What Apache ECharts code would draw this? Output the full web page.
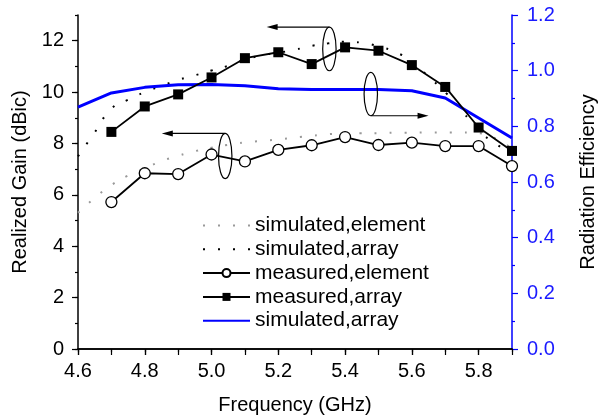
<!DOCTYPE html>
<html>
<head>
<meta charset="utf-8">
<script src="https://cdn.jsdelivr.net/npm/echarts@6/dist/echarts.min.js"></script>
<style>
	html, body { margin: 0; padding: 0; background: #fff; }
	#main { width: 600px; height: 416px; }
</style>
</head>
<body>
<div id="main"></div>
<script>
	// 频率 (GHz)
	const freq = [4.7, 4.8, 4.9, 5.0, 5.1, 5.2, 5.3, 5.4, 5.5, 5.6, 5.7, 5.8, 5.9]
	const measuredElement = [5.72, 6.84, 6.81, 7.57, 7.30, 7.75, 7.93, 8.25, 7.94, 8.03, 7.90, 7.90, 7.12]
	const measuredArray = [8.45, 9.44, 9.91, 10.57, 11.32, 11.55, 11.09, 11.74, 11.61, 11.05, 10.20, 8.62, 7.71]

	// 仿真曲线 (0.05 GHz 步长)
	const simFreq = [4.6, 4.65, 4.7, 4.75, 4.8, 4.85, 4.9, 4.95, 5.0, 5.05, 5.1, 5.15, 5.2, 5.25,
		5.3, 5.35, 5.4, 5.45, 5.5, 5.55, 5.6, 5.65, 5.7, 5.75, 5.8, 5.85, 5.9]
	const simElement = [5.30, 5.88, 6.38, 6.75, 7.03, 7.31, 7.52, 7.70, 7.83, 7.95, 8.04, 8.10, 8.16, 8.23,
		8.30, 8.36, 8.39, 8.40, 8.40, 8.42, 8.42, 8.43, 8.43, 8.43, 8.40, 8.20, 7.80]
	const simArray = [7.50, 8.43, 9.35, 9.70, 10.00, 10.24, 10.47, 10.65, 10.84, 11.02, 11.25, 11.43, 11.53, 11.65,
		11.80, 11.90, 11.96, 11.92, 11.78, 11.56, 11.20, 10.60, 10.00, 9.27, 8.50, 8.00, 7.60]

	// 辐射效率
	const effFreq = [4.6, 4.7, 4.8, 4.9, 5.0, 5.1, 5.2, 5.3, 5.4, 5.5, 5.6, 5.7, 5.8, 5.9]
	const efficiency = [0.869, 0.920, 0.940, 0.949, 0.950, 0.946, 0.935, 0.932, 0.932, 0.932, 0.928, 0.902, 0.830, 0.758]

	const legendNames = ['simulated,element', 'simulated,array', 'measured,element', 'measured,array', 'simulated,array ']

	// 标注: 椭圆中心 [f, value], 箭头所在值, 箭头终点频率
	const notes = [
		{ center: [5.041, 7.51], arrowY: 8.39, arrowTo: 4.851, series: 0 },
		{ center: [5.353, 11.68], arrowY: 12.53, arrowTo: 5.165, series: 1 },
		{ center: [5.477, 0.916], arrowY: 0.838, arrowTo: 5.65, series: 4 }
	]

	const font = 'Liberation Sans, Arial, sans-serif'
	const zip = (xs, ys) => xs.map((x, i) => [x, ys[i]])

	let myChart = echarts.init(document.getElementById('main'))

	const option = {
		animation: false,
		textStyle: { fontFamily: font },
		grid: { left: 78, right: 88, top: 15, bottom: 67, outerBoundsMode: 'none', containLabel: false },
		legend: {
			orient: 'vertical',
			left: 202,
			top: 215,
			padding: 0,
			itemWidth: 47,
			itemHeight: 10,
			itemGap: 2.8,
			textStyle: { fontSize: 21, color: '#000', fontFamily: font },
			data: [
				{ name: legendNames[0], itemStyle: { opacity: 0 } },
				{ name: legendNames[1], itemStyle: { opacity: 0 } },
				legendNames[2], legendNames[3],
				{ name: legendNames[4], itemStyle: { opacity: 0 } }
			]
		},
		xAxis: [{
			type: 'value', position: 'bottom', min: 4.6, max: 5.9, interval: 0.2,
			name: 'Frequency (GHz)', nameLocation: 'middle', nameGap: 46,
			nameTextStyle: { fontSize: 20, color: '#000' },
			axisLine: { lineStyle: { color: '#000', width: 1.5 } },
			axisTick: { length: 6, lineStyle: { color: '#000', width: 1.2 } },
			axisLabel: { fontSize: 20, color: '#000', margin: 12, showMaxLabel: false,
				formatter: v => v.toFixed(1) },
			splitLine: { show: false }
		}, {
			// 次刻度
			type: 'value', position: 'bottom', min: 4.6, max: 5.9, interval: 0.1,
			axisLine: { show: false },
			axisTick: { length: 3, lineStyle: { color: '#000', width: 1.2 } },
			axisLabel: { show: false },
			splitLine: { show: false }
		}, {
			type: 'value', position: 'top', min: 4.6, max: 5.9, interval: 0.1,
			axisLine: { lineStyle: { color: '#000', width: 1.5 } },
			axisTick: { inside: true, length: 6, lineStyle: { color: '#000', width: 1.2 } },
			axisLabel: { show: false },
			splitLine: { show: false }
		}],
		yAxis: [{
			type: 'value', position: 'left', min: 0, max: 13, interval: 2,
			name: 'Realized Gain (dBic)', nameLocation: 'middle', nameGap: 41, nameRotate: 90,
			nameTextStyle: { fontSize: 20, color: '#000' },
			axisLine: { lineStyle: { color: '#000', width: 1.5 } },
			axisTick: { length: 6, lineStyle: { color: '#000', width: 1.2 } },
			axisLabel: { fontSize: 20, color: '#000', margin: 14, showMaxLabel: false },
			splitLine: { show: false }
		}, {
			type: 'value', position: 'left', min: 0, max: 13, interval: 1,
			axisLine: { show: false },
			axisTick: { length: 3, lineStyle: { color: '#000', width: 1.2 } },
			axisLabel: { show: false },
			splitLine: { show: false }
		}, {
			type: 'value', position: 'right', min: 0, max: 1.2, interval: 0.2,
			name: 'Radiation Efficiency', nameLocation: 'middle', nameGap: 66, nameRotate: 90,
			nameTextStyle: { fontSize: 20, color: '#000' },
			axisLine: { lineStyle: { color: '#0000ff', width: 1.5 } },
			axisTick: { length: 6, lineStyle: { color: '#0000ff', width: 1.2 } },
			minorTick: { show: true, splitNumber: 2, length: 3, lineStyle: { color: '#0000ff', width: 1.2 } },
			axisLabel: { fontSize: 20, color: '#1a1aff', margin: 15, formatter: v => v.toFixed(1) },
			splitLine: { show: false }
		}],
		series: [{
			name: legendNames[0], type: 'line', xAxisIndex: 0, yAxisIndex: 0,
			data: zip(simFreq, simElement), smooth: true, symbol: 'none',
			lineStyle: { color: '#999', width: 2, type: [2, 13] }, itemStyle: { color: '#999' }, z: 2
		}, {
			name: legendNames[1], type: 'line', xAxisIndex: 0, yAxisIndex: 0,
			data: zip(simFreq, simArray), smooth: true, symbol: 'none',
			lineStyle: { color: '#000', width: 2, type: [2, 13] }, itemStyle: { color: '#000' }, z: 2
		}, {
			name: legendNames[2], type: 'line', xAxisIndex: 0, yAxisIndex: 0,
			data: zip(freq, measuredElement), symbol: 'circle', symbolSize: 11,
			lineStyle: { color: '#000', width: 1.8 },
			itemStyle: { color: '#fff', borderColor: '#000', borderWidth: 1.3 }, z: 4
		}, {
			name: legendNames[3], type: 'line', xAxisIndex: 0, yAxisIndex: 0,
			data: zip(freq, measuredArray), symbol: 'rect', symbolSize: 10,
			lineStyle: { color: '#000', width: 1.8 },
			itemStyle: { color: '#000' }, z: 4
		}, {
			name: legendNames[4], type: 'line', xAxisIndex: 0, yAxisIndex: 2,
			data: zip(effFreq, efficiency), symbol: 'none',
			lineStyle: { color: '#0000ff', width: 3 }, itemStyle: { color: '#0000ff' }, z: 3
		}]
	}

	myChart.setOption(option)

	// 椭圆和箭头
	const graphics = []
	notes.forEach(n => {
		const finder = { seriesIndex: n.series }
		const c = myChart.convertToPixel(finder, n.center)
		const a = myChart.convertToPixel(finder, [n.center[0], n.arrowY])
		const tip = myChart.convertToPixel(finder, [n.arrowTo, n.arrowY])
		const ry = Math.abs(a[1] - c[1])
		graphics.push({
			type: 'ellipse', shape: { cx: c[0], cy: c[1], rx: 6.7, ry: ry },
			style: { fill: null, stroke: '#000', lineWidth: 1.2 }, z: 10
		})
		const dir = tip[0] < a[0] ? 1 : -1
		graphics.push({
			type: 'line', shape: { x1: a[0], y1: a[1], x2: tip[0] + dir * 8, y2: tip[1] },
			style: { stroke: '#000', lineWidth: 1.2 }, z: 10
		})
		graphics.push({
			type: 'polygon',
			shape: { points: [[tip[0], tip[1]], [tip[0] + dir * 11, tip[1] - 3], [tip[0] + dir * 11, tip[1] + 3]] },
			style: { fill: '#000' }, z: 10
		})
	})
	myChart.setOption({ graphic: graphics })
</script>
</body>
</html>
